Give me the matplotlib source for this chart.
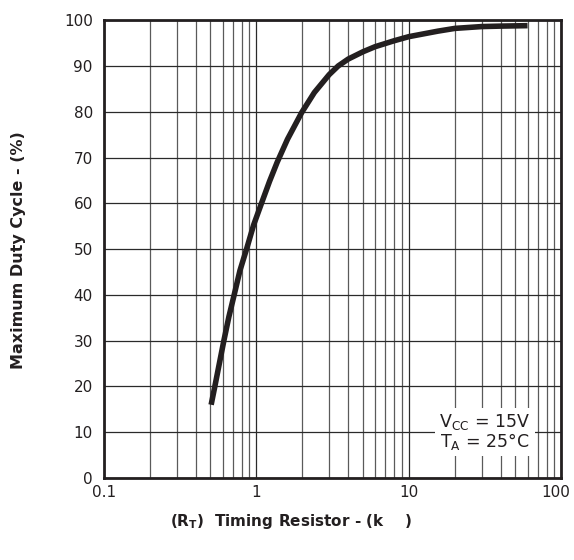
import numpy as np
import matplotlib.pyplot as plt
import matplotlib.transforms as mtransforms
from matplotlib.ticker import FixedLocator, NullFormatter

# values
rt_kohm = [0.505, 0.534, 0.57, 0.612, 0.66, 0.715, 0.78, 0.862, 0.96, 1.08, 1.22, 1.37, 1.6, 1.98,
           2.4, 3.0, 3.44, 4.0, 5.0, 6.0, 8.0, 10.0, 15.5, 20.0, 30.0, 40.0, 60.0]
duty_pct = [16.0, 20.0, 24.8, 30.0, 35.2, 40.0, 45.3, 50.0, 55.3, 60.0, 64.8, 69.0, 74.0, 79.8,
            84.2, 88.1, 90.0, 91.5, 93.1, 94.2, 95.5, 96.4, 97.6, 98.2, 98.6, 98.7, 98.8]

x_ticks = [0.1, 1, 10, 100]
x_labels = ["0.1", "1", "10", "100"]
y_ticks = list(range(0, 101, 10))

plt.rcParams['font.family'] = ['DejaVu Sans']

fig = plt.figure(figsize=(5.74, 5.6), dpi=100)
ax = fig.add_axes([0.181, 0.1464, 0.797, 0.8176])

ax.set_xscale("log")
ax.set_xlim(0.1, 100)
ax.set_ylim(0, 100)

minor = [m * 10.0 ** d for d in (-1, 0, 1) for m in range(2, 10)]
ax.xaxis.set_major_locator(FixedLocator(x_ticks))
ax.xaxis.set_minor_locator(FixedLocator(minor))
ax.xaxis.set_minor_formatter(NullFormatter())
ax.set_xticklabels(x_labels)
ax.set_yticks(y_ticks)

ax.grid(True, which="major", color="#2a2a2a", lw=0.9)
ax.grid(True, which="minor", axis="x", color="#5a5a5a", lw=0.9)
ax.tick_params(which="both", length=0, labelsize=11, colors="#231f20")
ax.tick_params(axis="x", pad=5)
ax.tick_params(axis="y", pad=8)

# keep the "100" label inside the figure
last = ax.get_xticklabels()[-1]
last.set_transform(last.get_transform() + mtransforms.ScaledTranslation(-4 / 72, 0, fig.dpi_scale_trans))

for s in ax.spines.values():
    s.set_linewidth(2)
    s.set_color("#231f20")

ax.plot(rt_kohm, duty_pct, color="#231f20", lw=4, solid_capstyle="butt", zorder=3)

ax.text(0.833, 0.1, "V$_{\\mathregular{CC}}$ = 15V\nT$_{\\mathregular{A}}$ = 25°C", transform=ax.transAxes,
        ha="center", va="center", fontsize=12.5, color="#231f20", linespacing=0.95,
        bbox=dict(facecolor="white", edgecolor="none", pad=3), zorder=4)

fig.text(0.032, 0.554, "Maximum Duty Cycle - (%)", rotation=90, ha="center", va="center",
         fontsize=11.5, fontweight="bold", color="#231f20")
fig.text(0.507, 0.068, "(R$_{\\mathbf{T}}$)  Timing Resistor - (k    )", ha="center", va="center",
         fontsize=11, fontweight="bold", color="#231f20")

fig.savefig("out.png", dpi=100)
